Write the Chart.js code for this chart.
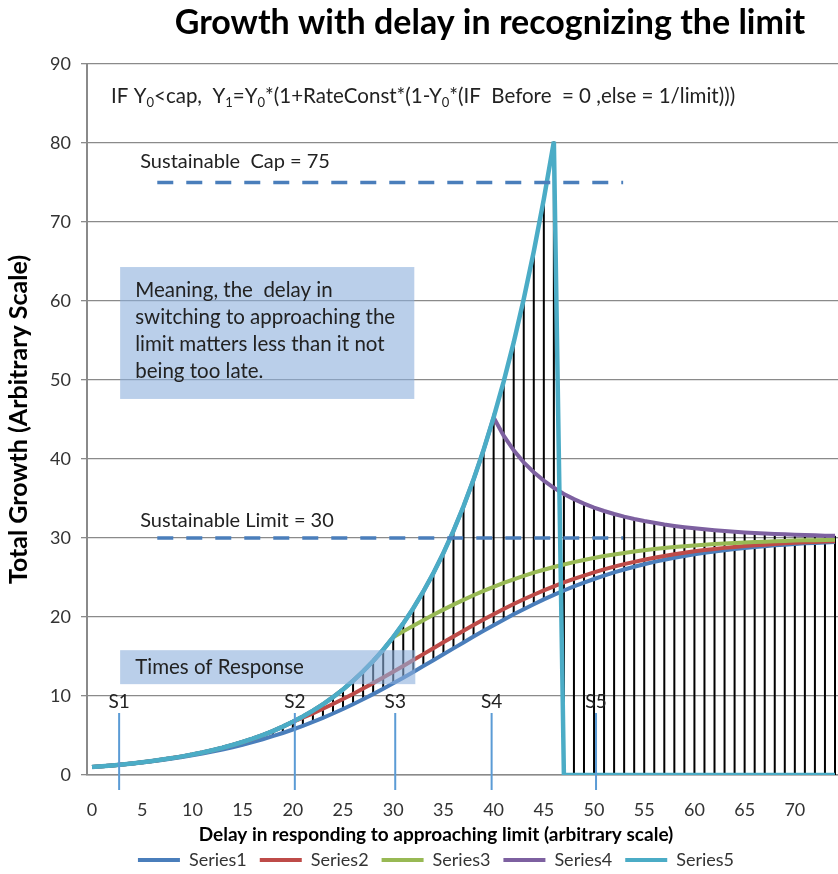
<!DOCTYPE html>
<html>
<head>
<meta charset="utf-8">
<script src="https://cdn.jsdelivr.net/npm/chart.js@4.4.1/dist/chart.umd.min.js"></script>
<style>
  html, body { margin: 0; padding: 0; background: #fff; overflow: hidden; }
</style>
</head>
<body>
<canvas id="growthChart" width="838" height="874"></canvas>
<script>
// delay steps (x axis)
const delay = [0,1,2,3,4,5,6,7,8,9,10,11,12,13,14,15,16,17,18,19,20,21,22,23,24,25,26,27,28,29,
  30,31,32,33,34,35,36,37,38,39,40,41,42,43,44,45,46,47,48,49,50,51,52,53,54,55,56,57,58,59,
  60,61,62,63,64,65,66,67,68,69,70,71,72,73,74];

// total growth per series
const series1 = [1.00,1.10,1.21,1.33,1.45,1.59,1.74,1.91,2.08,2.28,
  2.49,2.72,2.96,3.23,3.52,3.83,4.16,4.52,4.91,5.32,
  5.76,6.22,6.71,7.23,7.78,8.36,8.96,9.59,10.24,10.92,
  11.61,12.32,13.05,13.79,14.53,15.28,16.03,16.78,17.52,18.25,
  18.96,19.66,20.34,20.99,21.62,22.23,22.80,23.35,23.87,24.35,
  24.81,25.24,25.64,26.01,26.36,26.68,26.98,27.25,27.50,27.73,
  27.94,28.13,28.30,28.46,28.61,28.74,28.86,28.97,29.07,29.16,
  29.24,29.32,29.38,29.44,29.50];
const series2 = [1.00,1.10,1.21,1.33,1.46,1.61,1.77,1.95,2.14,2.36,
  2.59,2.85,3.14,3.45,3.80,4.18,4.59,5.05,5.56,6.12,
  6.73,7.25,7.80,8.38,8.98,9.61,10.26,10.94,11.63,12.34,
  13.07,13.81,14.55,15.30,16.05,16.80,17.54,18.27,18.98,19.68,
  20.36,21.01,21.64,22.24,22.82,23.36,23.88,24.37,24.83,25.25,
  25.65,26.03,26.37,26.69,26.98,27.25,27.50,27.73,27.94,28.13,
  28.31,28.47,28.61,28.75,28.87,28.98,29.07,29.16,29.25,29.32,
  29.39,29.45,29.50,29.55,29.59];
const series3 = [1.00,1.10,1.21,1.33,1.46,1.61,1.77,1.95,2.14,2.36,
  2.59,2.85,3.14,3.45,3.80,4.18,4.59,5.05,5.56,6.12,
  6.73,7.40,8.14,8.95,9.85,10.83,11.92,13.11,14.42,15.86,
  17.45,18.18,18.90,19.60,20.28,20.93,21.57,22.17,22.75,23.30,
  23.82,24.31,24.77,25.20,25.61,25.98,26.33,26.65,26.95,27.22,
  27.48,27.71,27.92,28.11,28.29,28.45,28.60,28.73,28.85,28.96,
  29.06,29.15,29.24,29.31,29.38,29.44,29.49,29.54,29.59,29.63,
  29.67,29.70,29.73,29.76,29.78];
const series4 = [1.00,1.10,1.21,1.33,1.46,1.61,1.77,1.95,2.14,2.36,
  2.59,2.85,3.14,3.45,3.80,4.18,4.59,5.05,5.56,6.12,
  6.73,7.40,8.14,8.95,9.85,10.83,11.92,13.11,14.42,15.86,
  17.45,19.19,21.11,23.23,25.55,28.10,30.91,34.00,37.40,41.14,
  45.26,42.96,41.10,39.58,38.32,37.26,36.35,35.58,34.92,34.35,
  33.85,33.42,33.04,32.70,32.41,32.15,31.92,31.71,31.53,31.37,
  31.23,31.10,30.99,30.88,30.79,30.71,30.64,30.57,30.52,30.46,
  30.42,30.37,30.34,30.30,30.27];
const series5 = [1.00,1.10,1.21,1.33,1.46,1.61,1.77,1.95,2.14,2.36,
  2.59,2.85,3.14,3.45,3.80,4.18,4.59,5.05,5.56,6.12,
  6.73,7.40,8.14,8.95,9.85,10.83,11.92,13.11,14.42,15.86,
  17.45,19.19,21.11,23.23,25.55,28.10,30.91,34.00,37.40,41.14,
  45.26,49.79,54.76,60.24,66.26,72.89,80.18,0,0,0,
  0,0,0,0,0,0,0,0,0,0,
  0,0,0,0,0,0,0,0,0,0,
  0,0,0,0,0];

const xTicks = [0,5,10,15,20,25,30,35,40,45,50,55,60,65,70];
const seriesNames = ['Series1','Series2','Series3','Series4','Series5'];
const seriesColors = ['#4a7ebb','#be4b48','#98b954','#7d60a0','#4bacc6'];

// annotations
const capValue = 75;
const limitValue = 30;
const responseTimes = [2.7, 20.2, 30.2, 39.8, 50.2];
const responseLabels = ['S1','S2','S3','S4','S5'];

Chart.defaults.font.family = 'Lato';
Chart.defaults.color = '#333';

const allSeries = [series1, series2, series3, series4, series5];

const extras = {
    id: 'extras',
    afterLayout(chart) {
        // legend sits a bit right and low in the original
        const lg = chart.legend;
        lg.left += 17; lg.right += 17;
        lg.top += 5; lg.bottom += 5;
    },
    beforeDatasetsDraw(chart) {
        // high-low lines
        const {ctx, chartArea: a} = chart;
        const x = chart.scales.x, y = chart.scales.y;
        ctx.save();
        ctx.beginPath();
        ctx.rect(a.left, a.top, a.width, a.height);
        ctx.clip();
        ctx.strokeStyle = '#000';
        ctx.lineWidth = 2;
        delay.forEach((d, i) => {
            const vals = allSeries.map(s => s[i]);
            const hi = Math.max(...vals), lo = Math.min(...vals);
            if (hi - lo < 0.01) return;
            const px = x.getPixelForValue(d);
            ctx.beginPath();
            ctx.moveTo(px, y.getPixelForValue(hi));
            ctx.lineTo(px, y.getPixelForValue(lo));
            ctx.stroke();
        });
        ctx.restore();
    },
    afterDatasetsDraw(chart) {
        const {ctx} = chart;
        const x = chart.scales.x, y = chart.scales.y;
        const X = v => x.getPixelForValue(v), Y = v => y.getPixelForValue(v);
        ctx.save();

        // dashed cap / limit lines
        ctx.strokeStyle = '#4a7ebb';
        ctx.lineWidth = 3.5;
        ctx.setLineDash([16, 13]);
        [capValue, limitValue].forEach(v => {
            ctx.beginPath();
            ctx.moveTo(X(6.5), Y(v));
            ctx.lineTo(X(52.9), Y(v));
            ctx.stroke();
        });
        ctx.setLineDash([]);

        ctx.fillStyle = '#222';
        ctx.font = '20px Lato';
        ctx.textBaseline = 'middle';
        ctx.textAlign = 'left';
        ctx.fillText('Sustainable  Cap = ' + capValue, X(4.8), Y(77.6));
        ctx.fillText('Sustainable Limit = ' + limitValue, X(4.8), Y(32.2));

        // formula with subscripts
        const parts = [['IF Y',0],['0',1],['<cap,  Y',0],['1',1],['=Y',0],['0',1],
            ['*(1+RateConst*(1-Y',0],['0',1],['*(IF  Before  = 0 ,else = 1/limit)))',0]];
        let fx = X(1.9);
        const fy = Y(85.9);
        parts.forEach(([t, sub]) => {
            ctx.font = sub ? '13px Lato' : '20.5px Lato';
            ctx.fillText(t, fx, sub ? fy + 6 : fy);
            fx += ctx.measureText(t).width;
        });

        // text boxes
        ctx.fillStyle = 'rgba(140,175,220,0.6)';
        ctx.fillRect(X(2.8), Y(64.3), X(32.1) - X(2.8), Y(47.6) - Y(64.3));
        ctx.fillRect(X(2.8), Y(15.8), X(32.2) - X(2.8), Y(11.5) - Y(15.8));
        ctx.fillStyle = '#222';
        ctx.font = '20.5px Lato';
        const lines = ['Meaning, the  delay in', 'switching to approaching the',
            'limit matters less than it not', 'being too late.'];
        lines.forEach((t, i) => ctx.fillText(t, X(4.3), Y(64.3) + 23 + i * 27));
        ctx.fillText('Times of Response', X(4.3), Y(13.6));

        // times of response markers
        ctx.strokeStyle = '#5b9bd5';
        ctx.lineWidth = 2;
        ctx.textAlign = 'center';
        ctx.font = '19px Lato';
        responseTimes.forEach((t, i) => {
            ctx.beginPath();
            ctx.moveTo(X(t), Y(7.85));
            ctx.lineTo(X(t), Y(-1.9));
            ctx.stroke();
            ctx.fillText(responseLabels[i], X(t), Y(9.2));
        });
        ctx.restore();
    },
    afterDraw(chart) {
        const {ctx} = chart;
        ctx.save();
        ctx.fillStyle = '#000';
        ctx.textAlign = 'center';
        ctx.textBaseline = 'middle';
        ctx.font = 'bold 34px Lato';
        ctx.fillText('Growth with delay in recognizing the limit', 490, 23);
        ctx.font = 'bold 19px Lato';
        ctx.fillText('Delay in responding to approaching limit (arbitrary scale)', 436, 835);
        ctx.restore();
    }
};

const ctx = document.getElementById('growthChart');
new Chart(ctx, {
    type: 'line',
    data: {
        labels: delay,
        datasets: allSeries.map((s, i) => ({
            label: seriesNames[i],
            data: s,
            borderColor: seriesColors[i],
            backgroundColor: seriesColors[i],
            borderWidth: i === 4 ? 4.5 : 4,
            pointRadius: 0,
            tension: 0,
            order: 5 - i
        }))
    },
    options: {
        responsive: false,
        animation: false,
        layout: { padding: { top: 64, left: 0, right: 0, bottom: 0 } },
        scales: {
            x: {
                type: 'linear',
                min: -0.5,
                max: 74.3,
                grid: { display: false },
                border: { display: true, color: '#8a8a8a', width: 1.5 },
                ticks: { font: { size: 18 }, color: '#333', padding: 16 },
                afterBuildTicks: s => { s.ticks = xTicks.map(v => ({ value: v })); },
                afterFit: s => { s.height = 874 - 775 - s.chart.legend.height; }
            },
            y: {
                min: 0,
                max: 90,
                ticks: { stepSize: 10, font: { size: 18 }, color: '#333', padding: 10 },
                grid: { color: '#8a8a8a', lineWidth: 1.3, tickLength: 6 },
                border: { color: '#8a8a8a', width: 2 },
                title: {
                    display: true,
                    text: 'Total Growth (Arbitrary Scale)',
                    font: { size: 25, weight: 'bold' },
                    color: '#000',
                    padding: { top: 4, bottom: 4 }
                },
                afterFit: s => { s.width = 87; }
            }
        },
        plugins: {
            legend: {
                position: 'bottom',
                labels: {
                    font: { size: 18 },
                    color: '#333',
                    boxWidth: 42,
                    boxHeight: 4,
                    padding: 13,
                    sort: (a, b) => a.datasetIndex - b.datasetIndex,
                    generateLabels: chart => Chart.defaults.plugins.legend.labels
                        .generateLabels(chart).map(l => ({ ...l, lineWidth: 0 }))
                }
            },
            tooltip: { enabled: false }
        }
    },
    plugins: [extras]
});
</script>
</body>
</html>
